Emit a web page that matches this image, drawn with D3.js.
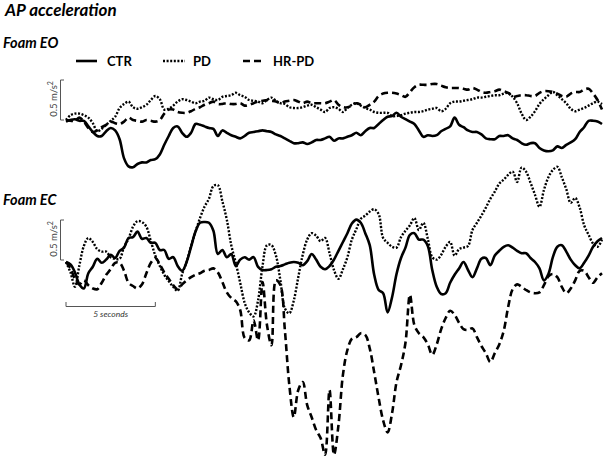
<!DOCTYPE html>
<html><head><meta charset="utf-8">
<script src="https://cdn.jsdelivr.net/npm/d3@7/dist/d3.min.js"></script>
<style>body{margin:0;background:#fff} svg{display:block}</style>
</head><body><svg id="c" width="604" height="470"></svg>
<script>
// ---- data (acceleration in m/s^2, sampled every 0.25 s over 30 s) ----
const sampleInterval = 0.25;
const chartTitle = "AP acceleration";
const panelTitles = ["Foam EO", "Foam EC"];
const seriesNames = ["CTR", "PD", "HR-PD"];
const accelBarValue = 0.5;
const timeBarValue = 5;
const timeBarLabel = "5 seconds";

const eoCTR = [0.03,0.05,0.06,0.04,0.04,-0.03,-0.10,-0.15,-0.15,-0.09,
-0.05,-0.08,-0.19,-0.43,-0.53,-0.54,-0.50,-0.48,-0.48,-0.45,
-0.44,-0.38,-0.26,-0.15,-0.05,-0.03,-0.11,-0.16,-0.11,0.00,
-0.01,-0.03,-0.05,-0.06,-0.15,-0.08,-0.11,-0.14,-0.16,-0.18,
-0.15,-0.11,-0.10,-0.09,-0.08,-0.09,-0.10,-0.13,-0.15,-0.18,
-0.21,-0.24,-0.24,-0.23,-0.25,-0.23,-0.20,-0.20,-0.18,-0.16,
-0.21,-0.18,-0.18,-0.16,-0.14,-0.11,-0.14,-0.09,-0.05,-0.05,
0.00,0.05,0.09,0.10,0.14,0.09,0.06,0.03,0.00,-0.08,
-0.16,-0.14,-0.15,-0.14,-0.09,-0.06,-0.03,0.08,-0.01,-0.04,
-0.08,-0.10,-0.10,-0.13,-0.18,-0.19,-0.19,-0.15,-0.15,-0.14,
-0.18,-0.20,-0.24,-0.26,-0.24,-0.24,-0.30,-0.33,-0.34,-0.33,
-0.28,-0.30,-0.26,-0.23,-0.19,-0.10,-0.04,0.04,0.04,0.03,
0.00];

const eoPD = [0.05,0.11,0.13,0.13,0.11,0.08,0.01,-0.09,-0.06,-0.01,
0.04,0.09,0.20,0.25,0.28,0.21,0.19,0.21,0.24,0.30,
0.35,0.31,0.18,0.19,0.23,0.28,0.31,0.30,0.28,0.26,
0.28,0.29,0.33,0.31,0.30,0.34,0.35,0.36,0.39,0.36,
0.34,0.30,0.29,0.28,0.26,0.30,0.33,0.29,0.26,0.25,
0.21,0.20,0.20,0.21,0.23,0.24,0.21,0.18,0.15,0.20,
0.21,0.19,0.15,0.20,0.24,0.26,0.23,0.20,0.18,0.15,
0.14,0.14,0.14,0.10,0.10,0.11,0.13,0.14,0.15,0.15,
0.16,0.18,0.19,0.20,0.16,0.19,0.26,0.28,0.28,0.29,
0.30,0.31,0.33,0.33,0.34,0.35,0.36,0.36,0.38,0.39,
0.34,0.26,0.13,0.05,0.09,0.16,0.25,0.31,0.36,0.40,
0.36,0.31,0.26,0.19,0.16,0.18,0.20,0.23,0.26,0.28,
0.25];

const eoHRPD = [0.05,0.04,0.04,0.08,0.03,-0.05,-0.10,-0.08,-0.04,-0.01,
0.03,0.01,0.00,0.03,0.08,0.05,0.04,0.03,0.05,0.04,
0.03,0.05,0.13,0.18,0.18,0.15,0.14,0.14,0.16,0.19,
0.21,0.24,0.26,0.28,0.25,0.25,0.26,0.25,0.25,0.26,
0.23,0.24,0.26,0.28,0.29,0.30,0.29,0.28,0.26,0.28,
0.29,0.30,0.28,0.26,0.28,0.26,0.26,0.26,0.26,0.28,
0.30,0.24,0.21,0.21,0.23,0.26,0.24,0.21,0.24,0.28,
0.35,0.38,0.39,0.39,0.38,0.36,0.34,0.40,0.46,0.49,
0.49,0.49,0.50,0.50,0.48,0.46,0.45,0.45,0.45,0.44,
0.43,0.45,0.43,0.40,0.39,0.40,0.41,0.43,0.41,0.39,
0.34,0.35,0.36,0.36,0.35,0.35,0.39,0.41,0.41,0.40,
0.38,0.35,0.34,0.38,0.40,0.40,0.43,0.44,0.38,0.30,
0.18];

const ecCTR = [0.00,-0.03,-0.13,-0.28,-0.33,-0.14,-0.06,0.04,-0.01,0.03,
0.09,0.05,0.14,0.18,0.30,0.31,0.38,0.29,0.30,0.24,
0.24,0.15,0.15,0.04,0.06,-0.05,-0.11,0.00,0.19,0.38,
0.49,0.50,0.49,0.39,0.10,0.15,0.06,0.10,-0.05,0.03,
0.06,0.03,0.06,-0.06,-0.10,-0.10,-0.09,-0.06,-0.05,-0.03,
-0.01,0.00,-0.01,-0.04,0.01,0.10,0.03,-0.06,-0.09,-0.05,
0.03,0.14,0.25,0.36,0.48,0.53,0.49,0.36,0.21,-0.16,
-0.35,-0.39,-0.63,-0.44,-0.15,0.05,0.18,0.34,0.36,0.28,
0.28,0.20,-0.10,-0.31,-0.40,-0.39,-0.26,-0.16,-0.08,0.00,
-0.10,-0.19,-0.08,0.04,0.05,-0.04,0.08,0.14,0.19,0.21,
0.18,0.14,0.11,0.11,0.05,0.00,-0.08,-0.23,-0.15,0.06,
0.19,0.21,0.13,0.03,-0.04,-0.08,-0.01,0.08,0.19,0.26,
0.30];

const ecPD = [0.00,-0.13,-0.31,-0.04,0.20,0.30,0.25,0.16,0.13,0.13,
0.06,0.04,0.04,0.19,0.29,0.44,0.51,0.50,0.44,0.26,
0.08,-0.05,-0.16,-0.24,-0.31,-0.36,-0.15,0.00,0.20,0.38,
0.55,0.69,0.79,0.95,0.96,0.76,0.53,0.21,-0.01,-0.26,
-0.51,-0.63,-0.68,-0.48,-0.05,0.21,0.21,0.08,-0.23,-0.58,
-0.64,-0.48,-0.19,0.09,0.28,0.36,0.33,0.26,0.30,0.11,
-0.10,-0.21,-0.09,0.06,0.28,0.41,0.54,0.58,0.63,0.66,
0.60,0.30,0.24,0.19,0.18,0.31,0.39,0.46,0.55,0.40,
0.49,0.29,0.06,0.03,0.09,0.19,0.25,0.08,0.16,0.18,
0.20,0.40,0.49,0.58,0.68,0.79,0.88,0.98,1.03,1.09,
1.13,1.00,1.18,1.13,0.99,0.84,0.69,0.90,1.06,1.15,
1.19,1.06,0.91,0.74,0.80,0.68,0.46,0.34,0.23,0.19,
0.28];

const ecHRPD = [0.00,-0.08,-0.21,-0.28,-0.23,-0.29,-0.33,-0.34,-0.26,-0.16,
-0.09,-0.01,-0.01,-0.11,-0.26,-0.30,-0.33,-0.28,-0.14,-0.01,
0.05,-0.03,-0.13,-0.21,-0.29,-0.34,-0.28,-0.23,-0.19,-0.16,
-0.14,-0.11,-0.10,-0.08,-0.13,-0.25,-0.38,-0.45,-0.49,-0.60,
-0.95,-0.98,-0.73,-0.98,-0.25,-0.79,-1.04,-0.23,-0.29,-0.85,
-1.54,-1.94,-1.60,-1.50,-1.79,-1.94,-2.10,-2.20,-2.41,-1.60,
-2.41,-2.04,-1.41,-1.10,-0.96,-0.94,-0.89,-0.91,-1.08,-1.38,
-1.70,-1.98,-2.13,-1.89,-1.50,-1.29,-1.01,-0.41,-0.79,-0.89,
-0.94,-1.03,-1.16,-1.03,-0.84,-0.70,-0.61,-0.66,-0.76,-0.84,
-0.85,-0.83,-0.94,-1.05,-1.14,-1.25,-1.14,-1.03,-0.86,-0.56,
-0.34,-0.28,-0.31,-0.35,-0.38,-0.39,-0.38,-0.29,-0.18,-0.15,
-0.19,-0.31,-0.39,-0.33,-0.23,-0.11,-0.11,-0.19,-0.26,-0.19,
-0.14];

// ---- drawing ----
const svg = d3.select("#c");
const FONT = "Lato, 'Open Sans', sans-serif";
const x = d3.scaleLinear().domain([0, 30]).range([66, 602]);

const styles = [
  {dash: null, w: 2.6},
  {dash: "2,1.6", w: 2.4},
  {dash: "7,4", w: 2.6}
];

const panels = [
  {title: panelTitles[0], base: 124, titleY: 48, barBase: 0.05, series: [eoCTR, eoPD, eoHRPD]},
  {title: panelTitles[1], base: 262, titleY: 205, barBase: 0.025, series: [ecCTR, ecPD, ecHRPD]}
];

svg.append("text").attr("x", 5).attr("y", 16)
  .attr("font-family", FONT).attr("font-weight", 700).attr("font-style", "italic")
  .attr("font-size", 17).attr("fill", "#000").text(chartTitle);

// legend
const legend = [{x1: 76, x2: 97, tx: 107}, {x1: 163, x2: 185, tx: 193}, {x1: 243, x2: 263, tx: 273}];
legend.forEach((l, i) => {
  svg.append("line").attr("x1", l.x1).attr("x2", l.x2).attr("y1", 61).attr("y2", 61)
    .attr("stroke", "#000").attr("stroke-width", styles[i].w)
    .attr("stroke-dasharray", styles[i].dash);
  svg.append("text").attr("x", l.tx).attr("y", 65.5)
    .attr("font-family", FONT).attr("font-weight", 700).attr("font-size", 13)
    .text(seriesNames[i]);
});

panels.forEach(p => {
  const y = d3.scaleLinear().domain([0, 1]).range([p.base, p.base - 80]);
  svg.append("text").attr("x", 3).attr("y", p.titleY)
    .attr("font-family", FONT).attr("font-weight", 700).attr("font-style", "italic")
    .attr("font-size", 14.5).text(p.title);

  // acceleration scale bar
  const yb0 = y(p.barBase), yb1 = y(p.barBase + accelBarValue);
  svg.append("path")
    .attr("d", `M64,${yb1}H60.5V${yb0}H64`)
    .attr("fill", "none").attr("stroke", "#555").attr("stroke-width", 1);
  const lab = svg.append("text")
    .attr("transform", `translate(57,${(yb0 + yb1) / 2 - 1}) rotate(-90)`)
    .attr("text-anchor", "middle").attr("font-family", FONT)
    .attr("font-size", 9.5).attr("fill", "#444");
  lab.append("tspan").text(accelBarValue + " m/s");
  lab.append("tspan").attr("font-size", 7).attr("dy", -4).text("2");

  const line = d3.line()
    .x((d, i) => x(i * sampleInterval))
    .y(d => y(d))
    .curve(d3.curveCatmullRom.alpha(0.5));

  [1, 2, 0].forEach(si => {
    svg.append("path").datum(p.series[si])
      .attr("d", line)
      .attr("fill", "none").attr("stroke", "#000")
      .attr("stroke-width", styles[si].w)
      .attr("stroke-dasharray", styles[si].dash)
      .attr("stroke-linejoin", "round");
  });
});

// time scale bar
const tb0 = x(0), tb1 = x(timeBarValue);
svg.append("path").attr("d", `M${tb0},302V306.5H${tb1}V302`)
  .attr("fill", "none").attr("stroke", "#555").attr("stroke-width", 1);
svg.append("text").attr("x", (tb0 + tb1) / 2).attr("y", 317)
  .attr("text-anchor", "middle").attr("font-family", FONT).attr("font-style", "italic")
  .attr("font-size", 8.5).attr("fill", "#333").text(timeBarLabel);
</script></body></html>
